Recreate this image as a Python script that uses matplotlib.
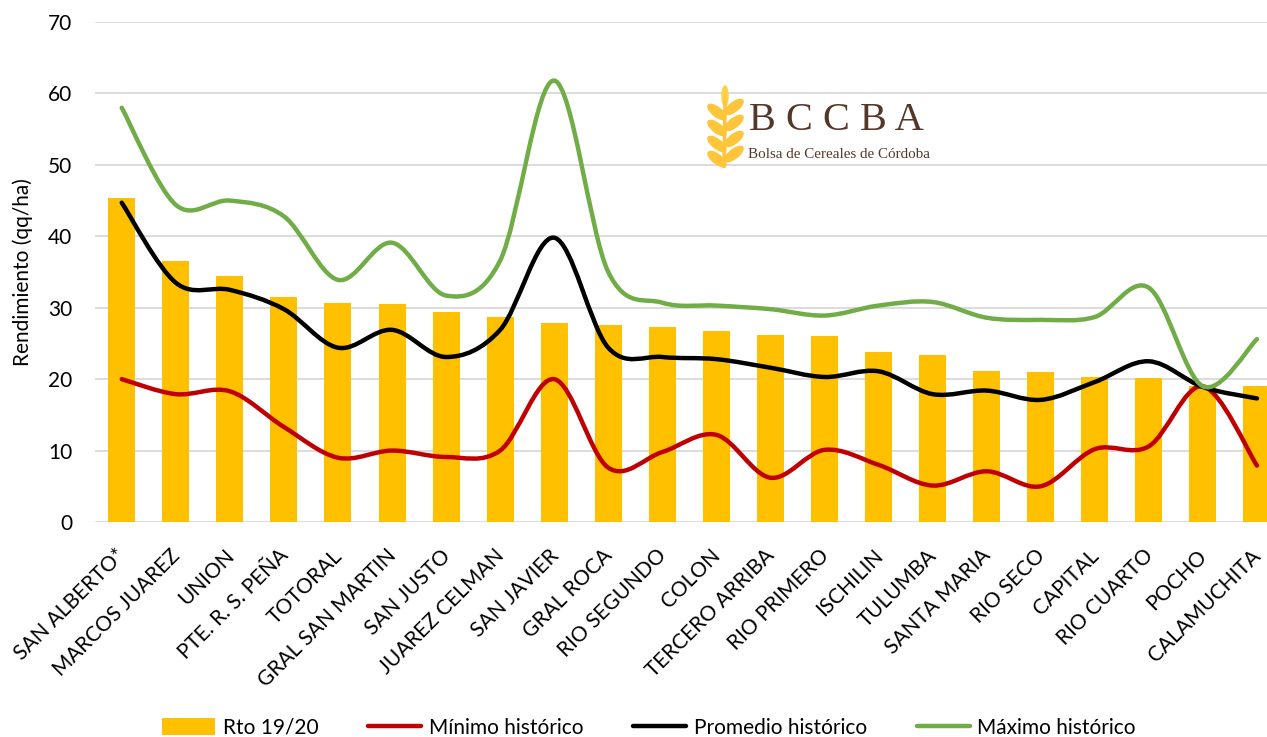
import numpy as np
import matplotlib
matplotlib.use("Agg")
import matplotlib.pyplot as plt
import matplotlib.transforms as mtransforms
from matplotlib.path import Path
from matplotlib.patches import PathPatch, Ellipse

# data
regions = ["SAN ALBERTO*", "MARCOS JUAREZ", "UNION", "PTE. R. S. PEÑA", "TOTORAL",
           "GRAL SAN MARTIN", "SAN JUSTO", "JUAREZ CELMAN", "SAN JAVIER", "GRAL ROCA",
           "RIO SEGUNDO", "COLON", "TERCERO ARRIBA", "RIO PRIMERO", "ISCHILIN",
           "TULUMBA", "SANTA MARIA", "RIO SECO", "CAPITAL", "RIO CUARTO", "POCHO",
           "CALAMUCHITA"]
rto_1920 = [45.4, 36.6, 34.4, 31.5, 30.6, 30.5, 29.4, 28.7, 27.8, 27.6, 27.3,
            26.7, 26.2, 26.0, 23.8, 23.4, 21.2, 21.0, 20.3, 20.1, 19.0, 19.1]
minimo = [20.0, 17.9, 18.3, 13.3, 9.0, 10.0, 9.1, 10.0, 20.0, 7.6, 9.8,
          12.2, 6.2, 10.1, 8.0, 5.1, 7.1, 5.0, 10.2, 10.6, 19.0, 7.9]
promedio = [44.7, 33.5, 32.5, 29.8, 24.4, 26.9, 23.1, 26.9, 39.8, 24.4, 23.1,
            22.8, 21.6, 20.3, 21.1, 17.9, 18.4, 17.1, 19.6, 22.5, 18.9, 17.3]
maximo = [58.0, 44.4, 45.0, 42.8, 33.9, 39.1, 31.7, 36.6, 61.8, 35.0, 30.7,
          30.3, 29.8, 28.9, 30.3, 30.8, 28.6, 28.3, 28.7, 32.8, 19.0, 25.6]
y_ticks = [0, 10, 20, 30, 40, 50, 60, 70]

plt.rcParams['font.family'] = ['Lato', 'DejaVu Sans']
FS = 15


# excel-like smoothed line (bezier through every point)
def smooth_path(xs, ys):
    pts = np.column_stack([xs, ys]).astype(float)
    n = len(pts)
    verts = [pts[0]]
    codes = [Path.MOVETO]
    for i in range(n - 1):
        p0 = pts[i - 1] if i > 0 else pts[i]
        p1 = pts[i]
        p2 = pts[i + 1]
        p3 = pts[i + 2] if i + 2 < n else pts[i + 1]
        c1 = p1 + (p2 - p0) / 6.0
        c2 = p2 - (p3 - p1) / 6.0
        verts += [c1, c2, p2]
        codes += [Path.CURVE4] * 3
    return Path(verts, codes)


fig = plt.figure(figsize=(12.67, 7.37), dpi=100)
ax = fig.add_axes([94.7 / 1267, 1 - 522 / 737, 1 - 94.7 / 1267, 500 / 737])

x = np.arange(len(regions))
ax.bar(x, rto_1920, width=0.5, color="#FFC000", zorder=2, label="Rto 19/20")

series = [(minimo, "#C00000", "Mínimo histórico"),
          (promedio, "#000000", "Promedio histórico"),
          (maximo, "#70AD47", "Máximo histórico")]
handles = []
for vals, col, lab in series:
    patch = PathPatch(smooth_path(x, vals), facecolor="none", edgecolor=col,
                      lw=3.2, capstyle="round", zorder=3)
    ax.add_patch(patch)
    h, = ax.plot([], [], color=col, lw=3.2, solid_capstyle="round", label=lab)
    handles.append(h)

ax.set_xlim(-0.5, 21.5 - (1284 - 1267) / 54.07)
ax.set_ylim(0, 70)
ax.set_yticks(y_ticks)
ax.set_yticklabels([str(v) for v in y_ticks], fontsize=FS)
ax.yaxis.grid(True, color="#D9D9D9", lw=1.3, zorder=0)
ax.set_axisbelow(True)
for s in ax.spines.values():
    s.set_visible(False)
ax.tick_params(axis="y", length=0, pad=16)
ax.tick_params(axis="x", length=0, pad=17)
ax.set_xticks(x)
ax.set_xticklabels(regions, rotation=45, ha="right", va="top",
                   rotation_mode="anchor", fontsize=FS)
# nudge the slanted labels a few pixels left so the last one fits
shift = mtransforms.ScaledTranslation(-6 / 100, 0, fig.dpi_scale_trans)
for lbl in ax.get_xticklabels():
    lbl.set_transform(lbl.get_transform() + shift)
ax.set_ylabel("Rendimiento (qq/ha)", fontsize=FS)
ax.yaxis.set_label_coords(-0.053, 0.5)

bar_h = ax.containers[0]
fig.legend([bar_h] + handles,
           ["Rto 19/20", "Mínimo histórico", "Promedio histórico", "Máximo histórico"],
           loc="center", bbox_to_anchor=(649 / 1267, 1 - 728 / 737), ncol=4,
           frameon=False, fontsize=FS, handlelength=2.55, handleheight=0.9,
           columnspacing=2.4, handletextpad=0.35)

# logo BCCBA
fig.text(749 / 1267, 1 - 121 / 737, "B C C B A", fontsize=29,
         family="Liberation Serif", color="#55372A", va="center", ha="left")
fig.text(748 / 1267, 1 - 155 / 737, "Bolsa de Cereales de Córdoba", fontsize=10.8,
         family="Liberation Serif", color="#55372A", va="center", ha="left")
lax = fig.add_axes([700 / 1267, 1 - 168 / 737, 50 / 1267, 84 / 737])
lax.set_xlim(0, 50)
lax.set_ylim(0, 84)
lax.axis("off")
lax.add_patch(Ellipse((25, 72), 6, 20, color="#FFD040"))
for yy in [56, 40, 24, 9]:
    lax.add_patch(Ellipse((17, yy), 9, 22, angle=52, color="#FFC53A"))
    lax.add_patch(Ellipse((34, yy + 5), 9, 22, angle=-52, color="#FFC53A"))
lax.plot([25, 24], [66, 1], color="#FFC53A", lw=2.5)

fig.savefig("out.png", dpi=100)
